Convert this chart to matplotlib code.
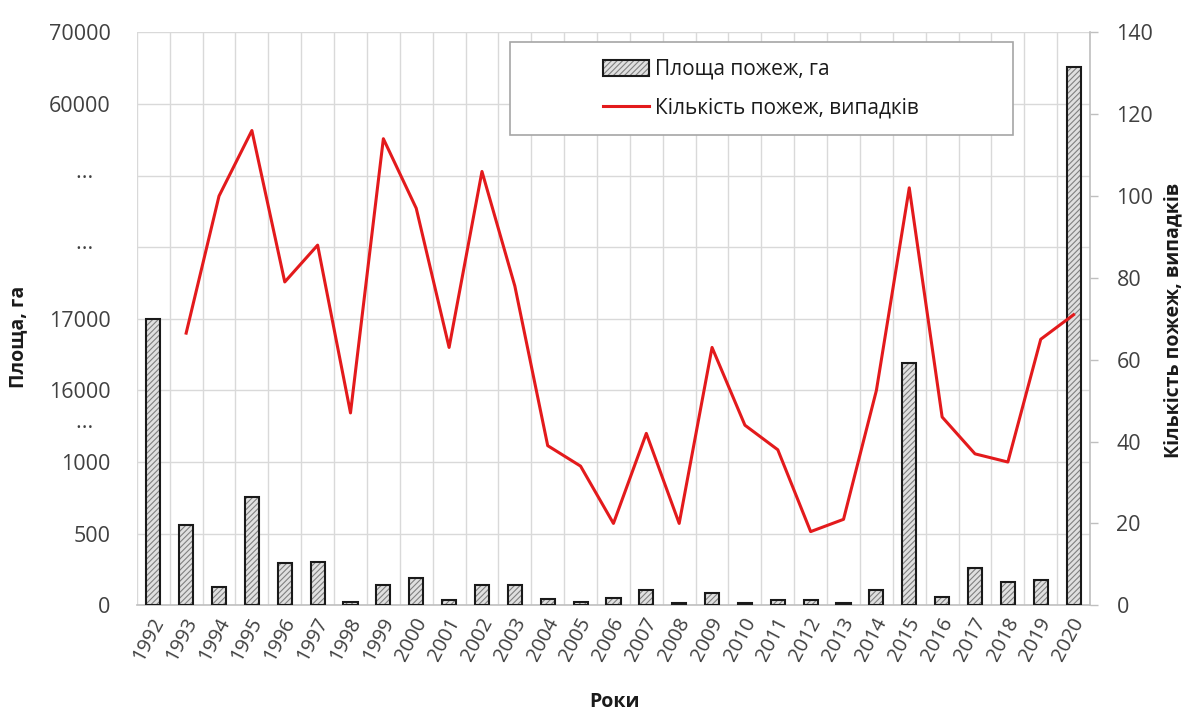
import numpy as np
import matplotlib
matplotlib.use('Agg')
import matplotlib.pyplot as plt
import matplotlib.transforms as mtransforms
from matplotlib.patches import Rectangle

plt.rcParams['font.family'] = ['Open Sans', 'DejaVu Sans']
plt.rcParams['hatch.linewidth'] = 0.8

# burned area, ha (1992..2020)
years = list(range(1992, 2021))
area = [17000, 560, 128, 754, 292, 303, 20, 140, 187, 40, 145, 145, 42, 23, 51,
        105, 19, 89, 19, 35, 40, 19, 105, 16380, 58, 257, 163, 175, 65100]

# number of fires (1993..2020)
fire_years = list(range(1993, 2021))
fires = [66.5, 100, 116, 79, 88, 47, 114, 97, 63, 106, 78, 39, 34, 20, 42, 20,
         63, 44, 38, 18, 21, 52.5, 102, 46, 37, 35, 65, 71]

# broken left axis: area values and the slot each one sits on
area_breaks = [0, 500, 1000, 16000, 17000, 60000, 70000]
break_slots = [0, 1, 2, 3, 4, 7, 8]
left_labels = ['0', '500', '1000', '···   ', '16000', '17000', '···   ', '···   ', '60000', '70000']
left_slots = [0, 1, 2, 2.5, 3, 4, 5, 6, 7, 8]

right_ticks = list(range(0, 141, 20))

area_label = 'Площа пожеж, га'
fires_label = 'Кількість пожеж, випадків'


def fwd(v):
    return np.interp(v, area_breaks, break_slots)


def inv(p):
    return np.interp(p, break_slots, area_breaks)


txt_col = '#404040'
grid_col = '#d9d9d9'

fig = plt.figure(figsize=(11.9, 7.18), dpi=100)
ax = fig.add_subplot(111)
fig.subplots_adjust(left=0.115, right=0.916, bottom=0.157, top=0.955)

x = np.arange(len(years))
xf = np.array([years.index(y) for y in fire_years])

ax.set_yscale('function', functions=(fwd, inv))
# hatched fill first, then a dark outline on top
bars_fill = ax.bar(x, area, width=0.43, color='#e0e0e0', edgecolor='#808080',
                   linewidth=0, hatch='//////', zorder=2)
bars_edge = ax.bar(x, area, width=0.43, facecolor='none', edgecolor='#1a1a1a',
                   linewidth=1.5, zorder=3)
ax.set_ylim(0, 70000)
ax.set_xlim(-0.5, len(years) - 0.5)

ax.yaxis.remove_overlapping_locs = False
ax.set_yticks(inv(np.array(left_slots)))
ax.set_yticklabels(left_labels)
ax.set_yticks(inv(np.arange(0, 9)), minor=True)
ax.set_xticks(x)
ax.set_xticklabels([str(y) for y in years], rotation=62, ha='right', va='center',
                   rotation_mode='anchor')
ax.set_xticks(np.arange(-0.5, len(years)), minor=True)
ax.grid(which='minor', color=grid_col, linewidth=1.0)
ax.set_axisbelow(True)
ax.tick_params(which='both', length=0)
ax.tick_params(axis='y', which='major', labelsize=15.5, labelcolor=txt_col, pad=19)
ax.tick_params(axis='x', which='major', labelsize=14.5, labelcolor=txt_col, pad=10)
ax.yaxis.set_minor_formatter(plt.NullFormatter())
ax.xaxis.set_minor_formatter(plt.NullFormatter())

shift = mtransforms.ScaledTranslation(0.06, 0, fig.dpi_scale_trans)
for lbl in ax.get_xticklabels():
    lbl.set_transform(lbl.get_transform() + shift)

for s in ['top', 'left', 'right']:
    ax.spines[s].set_visible(False)
ax.spines['bottom'].set_color('#bfbfbf')
ax.spines['bottom'].set_linewidth(1.2)

ax.set_ylabel('Площа, га', fontsize=14, fontweight='bold', color='#1a1a1a')
ax.yaxis.set_label_coords(-0.114, 0.469)
ax.set_xlabel('Роки', fontsize=14, fontweight='bold', color='#1a1a1a')
ax.xaxis.set_label_coords(0.5016, -0.152)

# fires on the secondary axis
ax2 = ax.twinx()
line, = ax2.plot(xf, fires, color='#e31a1c', linewidth=2.2, label=fires_label, zorder=3)
ax2.set_ylim(0, 140)
ax2.set_yticks(right_ticks)
ax2.tick_params(axis='y', direction='out', length=6, width=1, color='#bfbfbf',
                labelsize=15.5, labelcolor=txt_col, pad=13)
for s in ['top', 'left', 'bottom']:
    ax2.spines[s].set_visible(False)
ax2.spines['right'].set_color('#bfbfbf')
ax2.spines['right'].set_linewidth(1.2)
ax2.set_ylabel(fires_label, fontsize=14, fontweight='bold', color='#1a1a1a')
ax2.yaxis.set_label_coords(1.0766, 0.497)

# legend box
box = Rectangle((0.391, 0.820), 0.528, 0.163, transform=ax2.transAxes,
                facecolor='white', edgecolor='#a6a6a6', linewidth=1.2, zorder=5)
ax2.add_patch(box)
leg = ax2.legend([(bars_fill[0], bars_edge[0]), line], [area_label, fires_label],
                 loc='center', bbox_to_anchor=(0.655, 0.9015), frameon=False,
                 fontsize=15, handlelength=2.2, handleheight=0.8, handletextpad=0.3,
                 labelspacing=0.85, borderpad=0)
leg.set_zorder(6)
for t in leg.get_texts():
    t.set_color('#1a1a1a')

fig.savefig('out.png', dpi=100)
